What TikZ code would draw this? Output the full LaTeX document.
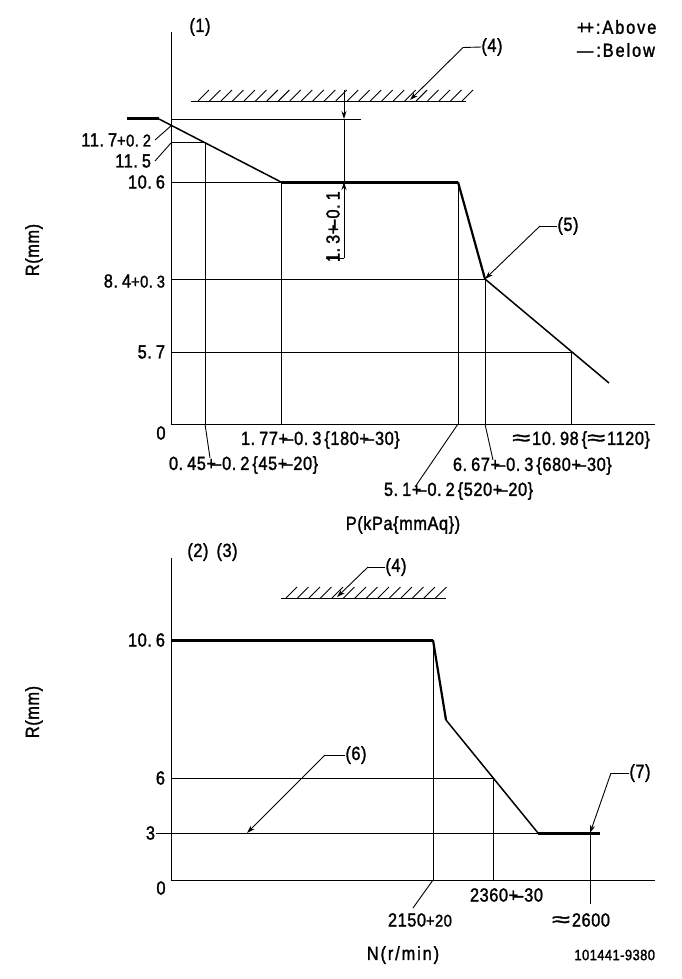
\documentclass[tikz,border=0pt]{standalone}
\usepackage{fontspec}
\setmainfont[FakeStretch=0.86,FakeBold=1.5,LetterSpace=3]{Liberation Sans}
\newfontfamily\legfont[FakeStretch=0.86,FakeBold=1.5,LetterSpace=10]{Liberation Sans}
\newcommand{\pmk}{+\kern-4pt–\kern1pt}
\newcommand{\dt}{.\kern4pt}
\newcommand{\smf}{\fontsize{17}{17}\selectfont}
\newcommand{\apx}{\scalebox{2}[1.1]{≈}\kern2pt}
\newcommand{\bl}{\kern3pt\{}
\usetikzlibrary{arrows.meta}
\tikzset{
  thinl/.style={line width=0.9pt,black},
  medl/.style={line width=1.5pt,black},
  steepl/.style={line width=2.2pt,black},
  thickl/.style={line width=3pt,black},
  lbl/.style={inner sep=0pt,outer sep=0pt,font=\fontsize{19}{19}\selectfont,text=black},
  leg/.style={inner sep=0pt,outer sep=0pt,font=\fontsize{19}{19}\selectfont\legfont,text=black},
  small/.style={inner sep=0pt,outer sep=0pt,font=\fontsize{15}{15}\selectfont,text=black},
  arr/.style={thinl,-{Stealth[length=8pt,width=5pt]}},
  hatchl/.style={line width=0.9pt,black},
}
\begin{document}
\begin{tikzpicture}[x=1pt,y=-1pt]
\useasboundingbox (0,0) rectangle (681,979);
% ---- upper chart coordinates
\coordinate (o1) at (171,424);
\coordinate (top1) at (171,32);
\coordinate (xe1) at (655,424);
\coordinate (a0) at (127,119);
\coordinate (a1) at (159,119);
\coordinate (a1e) at (361,119);
\coordinate (y117) at (171,119);
\coordinate (y115) at (171,142);
\coordinate (p115) at (205,142);
\coordinate (y106) at (171,182);
\coordinate (p106) at (281,182);
\coordinate (p51) at (458,182);
\coordinate (y84) at (171,279);
\coordinate (p84) at (485,279);
\coordinate (y57) at (171,352);
\coordinate (p57) at (571,352);
\coordinate (pend) at (609,383);
\coordinate (b045) at (205,424);
\coordinate (b177) at (281,424);
\coordinate (b51) at (458,424);
\coordinate (b667) at (485,424);
\coordinate (b1098) at (571,424);
% axes
\draw[thinl] (top1) -- (o1) -- (xe1);
% grid lines
\draw[thinl] (y117) -- (a1e);
\draw[thinl] (y115) -- (p115) -- (b045);
\draw[thinl] (y106) -- (p106) -- (b177);
\draw[thinl] (p51) -- (b51);
\draw[thinl] (y84) -- (p84) -- (b667);
\draw[thinl] (y57) -- (p57) -- (b1098);
% curve
\draw[thickl] (a0) -- (a1);
\draw[medl] (a1) -- (p106);
\draw[thickl] (p106) -- (p51);
\draw[steepl] (p51) -- (p84);
\draw[medl] (p84) -- (pend);
% stopper
\coordinate (h1a) at (191,101);
\coordinate (h1b) at (466,101);
\draw[thinl] (h1a) -- (h1b);
\foreach \i in {0,...,23} \draw[hatchl] ({198+\i*11.48},101) -- ++(11,-11);
% dimension 1.3
\coordinate (d1t) at (344,90);
\coordinate (d1m) at (344,119);
\coordinate (d1n) at (344,182);
\coordinate (d1b) at (344,258);
\coordinate (d1l) at (326,258);
\draw[arr] (d1t) -- (d1m);
\draw[thinl] (d1m) -- (d1n);
\draw[arr] (d1b) -- (d1n);
\draw[thinl] (d1b) -- (d1l);
\node[lbl,rotate=90,anchor=west] (t13) at (333,262) {1\dt 3\pmk 0\dt 1};
% leaders
\node[lbl] (t4a) at (492,47) {(4)};
\coordinate (l4a) at (463,47.5);
\coordinate (tip4a) at (410,100);
\draw[thinl] (t4a.west) -- (l4a);
\draw[arr] (l4a) -- (tip4a);
\node[lbl] (t5) at (568,226) {(5)};
\coordinate (l5) at (540,226);
\draw[thinl] (t5.west) -- (l5);
\draw[arr] (l5) -- (p84);
% upper labels
\node[lbl] (t1) at (200,27) {(1)};
\node[leg,anchor=west] (leg1) at (577,27) {+\kern-2pt+:Above};
\node[leg,anchor=west] (leg2) at (577,50) {—\kern3pt:Below};
\node[lbl,rotate=90] (r1) at (34,250) {R(mm)};
\node[lbl,anchor=east] (v117) at (151,140) {11\dt 7{\smf +0\dt 2}};
\node[lbl,anchor=east] (v115) at (151,161) {11\dt 5};
\node[lbl,anchor=east] (v106) at (165,182) {10\dt 6};
\node[lbl,anchor=east] (v84) at (165,281) {8\dt 4{\smf +0\dt 3}};
\node[lbl,anchor=east] (v57) at (165,352) {5\dt 7};
\node[lbl] (z1) at (161,433) {0};
\coordinate (c117) at (172,125);
\coordinate (c115) at (171,143);
\draw[thinl] (155,140) coordinate (s117) -- (c117);
\draw[thinl] (155,161) coordinate (s115) -- (c115);
\node[lbl,anchor=west] (x177) at (241,440) {1\dt 77\pmk 0\dt 3\bl 180\pmk 30\}};
\node[lbl,anchor=east] (x1098) at (650,440) {\apx 10\dt 98\bl\apx 1120\}};
\node[lbl,anchor=west] (x045) at (169,465) {0\dt 45\pmk 0\dt 2\bl 45\pmk 20\}};
\node[lbl,anchor=west] (x667) at (453,466) {6\dt 67\pmk 0\dt 3\bl 680\pmk 30\}};
\node[lbl,anchor=west] (x51) at (384,491) {5\dt 1\pmk 0\dt 2\bl 520\pmk 20\}};
\node[lbl] (xl1) at (403,525) {P(kPa\{mmAq\})};
\coordinate (e045) at (210,458);
\coordinate (e51) at (415,487);
\coordinate (e667) at (493,460);
\draw[thinl] (b045) -- (e045);
\draw[thinl] (b51) -- (e51);
\draw[thinl] (b667) -- (e667);
% ---- lower chart
\coordinate (o2) at (171,880);
\coordinate (top2) at (171,558);
\coordinate (xe2) at (655,880);
\coordinate (q0) at (171,640);
\coordinate (q1) at (433,640);
\coordinate (q2) at (446,720);
\coordinate (y6) at (171,778);
\coordinate (q6) at (493,778);
\coordinate (y3) at (156,833);
\coordinate (q3) at (538,833);
\coordinate (q4) at (600,833);
\coordinate (q26) at (590,833);
\coordinate (b2150) at (433,880);
\coordinate (b2360) at (493,880);
\coordinate (b2600) at (590,904);
\draw[thinl] (top2) -- (o2) -- (xe2);
\draw[thinl] (q1) -- (b2150);
\draw[thinl] (y6) -- (q6) -- (b2360);
\draw[thinl] (y3) -- (q3);
\draw[thinl] (q26) -- (b2600);
\draw[thickl] (q0) -- (q1);
\draw[steepl] (q1) -- (q2);
\draw[medl] (q2) -- (q3);
\draw[thickl] (q3) -- (q4);
% stopper 2
\coordinate (h2a) at (281,598);
\coordinate (h2b) at (446,598);
\draw[thinl] (h2a) -- (h2b);
\foreach \i in {0,...,13} \draw[hatchl] ({286+\i*11.5},598) -- ++(11,-11);
% leaders
\node[lbl] (t4b) at (396,567) {(4)};
\coordinate (l4b) at (368,567);
\coordinate (tip4b) at (337,597);
\draw[thinl] (t4b.west) -- (l4b);
\draw[arr] (l4b) -- (tip4b);
\node[lbl] (t6) at (356,755) {(6)};
\coordinate (l6) at (325,755);
\coordinate (tip6) at (247,833);
\draw[thinl] (t6.west) -- (l6);
\draw[arr] (l6) -- (tip6);
\node[lbl] (t7) at (640,773) {(7)};
\coordinate (l7) at (611,773);
\draw[thinl] (t7.west) -- (l7);
\draw[arr] (l7) -- (q26);
\coordinate (e2150) at (413,908);
\draw[thinl] (b2150) -- (e2150);
% lower labels
\node[lbl] (t23) at (212.5,552) {(2)\kern8pt(3)};
\node[lbl,rotate=90] (r2) at (34,712) {R(mm)};
\node[lbl,anchor=east] (w106) at (165,640) {10\dt 6};
\node[lbl,anchor=east] (w6) at (165,778) {6};
\node[lbl,anchor=east] (w3) at (155,833) {3};
\node[lbl] (z2) at (161,888) {0};
\node[lbl,anchor=west] (n2150) at (388,920) {2150{\smf +20}};
\node[lbl,anchor=west] (n2360) at (470,895) {2360\pmk 30};
\node[lbl,anchor=west] (n2600) at (552,920) {\apx 2600};
\node[leg] (xl2) at (403,955) {N(r/min)};
\node[small,anchor=east] (code) at (655,955) {101441-9380};
\end{tikzpicture}
\end{document}
